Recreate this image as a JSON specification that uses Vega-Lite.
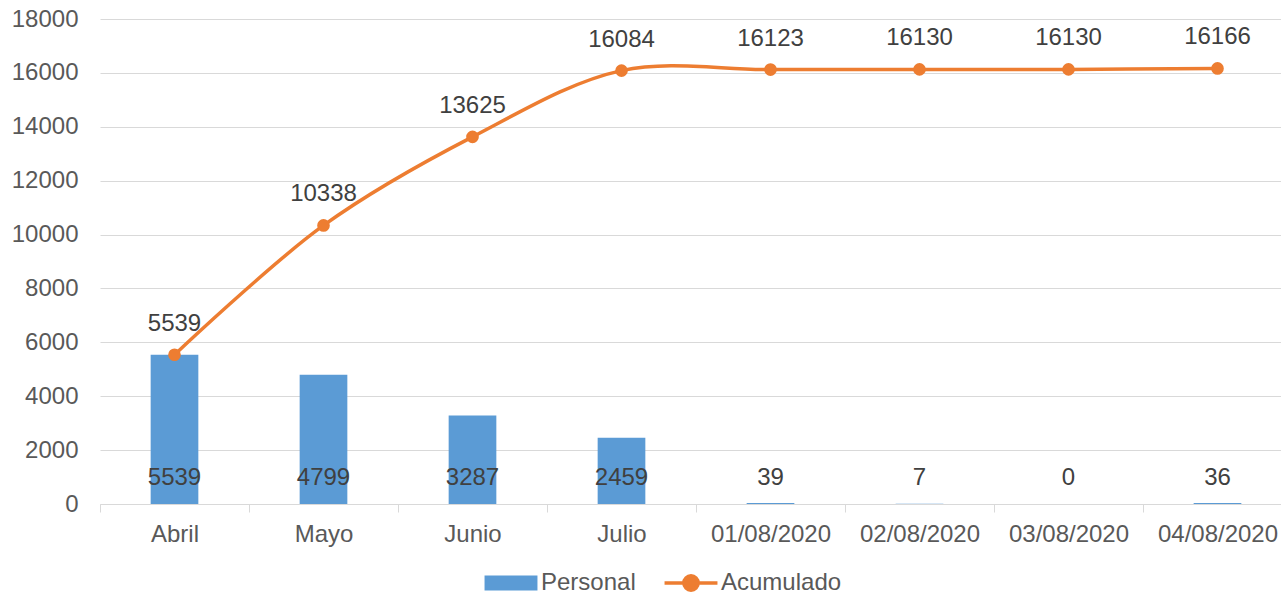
{
  "$schema": "https://vega.github.io/schema/vega-lite/v6.json",
  "width": 1192,
  "height": 485,
  "autosize": {"type": "none"},
  "padding": {"left": 100, "top": 19, "right": 0, "bottom": 91},
  "background": "white",
  "config": {
    "font": "Liberation Sans",
    "view": {"stroke": null},
    "legend": {"orient": "none", "legendX": 399, "legendY": 552}
  },
  "data": {
    "values": [
      {"mes": "Abril", "Personal": 5539, "Acumulado": 5539},
      {"mes": "Mayo", "Personal": 4799, "Acumulado": 10338},
      {"mes": "Junio", "Personal": 3287, "Acumulado": 13625},
      {"mes": "Julio", "Personal": 2459, "Acumulado": 16084},
      {"mes": "01/08/2020", "Personal": 39, "Acumulado": 16123},
      {"mes": "02/08/2020", "Personal": 7, "Acumulado": 16130},
      {"mes": "03/08/2020", "Personal": 0, "Acumulado": 16130},
      {"mes": "04/08/2020", "Personal": 36, "Acumulado": 16166}
    ]
  },
  "encoding": {
    "x": {
      "field": "mes",
      "type": "nominal",
      "sort": null,
      "scale": {"paddingInner": 0, "paddingOuter": 0},
      "axis": {
        "title": null,
        "labelAngle": 0,
        "labelFontSize": 24,
        "labelColor": "#595959",
        "labelPadding": 10,
        "domainColor": "#D9D9D9",
        "domainWidth": 1,
        "tickColor": "#D9D9D9",
        "tickSize": 8,
        "tickBand": "extent",
        "grid": false
      }
    }
  },
  "layer": [
    {
      "mark": {"type": "bar", "width": {"band": 0.32}},
      "encoding": {
        "y": {
          "field": "Personal",
          "type": "quantitative",
          "scale": {"domain": [0, 18000], "nice": false},
          "axis": {
            "title": null,
            "values": [0, 2000, 4000, 6000, 8000, 10000, 12000, 14000, 16000, 18000],
            "format": "d",
            "labelFontSize": 24,
            "labelColor": "#595959",
            "labelPadding": 22,
            "ticks": false,
            "domain": false,
            "gridColor": "#D9D9D9",
            "gridWidth": 1
          }
        },
        "color": {
          "datum": "Personal",
          "scale": {"domain": ["Personal", "Acumulado"], "range": ["#5B9BD5", "#ED7D31"]},
          "legend": {
            "title": null,
            "direction": "horizontal",
            "gridAlign": "none",
            "labelFontSize": 24,
            "labelColor": "#595959",
            "labelOffset": 18,
            "columnPadding": 21,
            "symbolSize": 2800,
            "encode": {
              "symbols": {
                "update": {
                  "shape": {"signal": "datum.value === 'Personal' ? 'M-1,-0.28H1V0.28H-1Z' : 'M-1,0H1M-0.27,0A0.27,0.27 0 1,0 0.27,0A0.27,0.27 0 1,0 -0.27,0'"},
                  "fill": {"signal": "datum.value === 'Personal' ? '#5B9BD5' : '#ED7D31'"},
                  "stroke": {"signal": "datum.value === 'Personal' ? '#5B9BD5' : '#ED7D31'"},
                  "strokeWidth": {"signal": "datum.value === 'Personal' ? 0 : 3.5"},
                  "opacity": {"value": 1},
                  "fillOpacity": {"value": 1}
                }
              }
            }
          }
        }
      }
    },
    {
      "mark": {"type": "text", "dy": -26, "fontSize": 24, "color": "#404040"},
      "encoding": {
        "y": {"datum": 0, "type": "quantitative"},
        "text": {"field": "Personal", "type": "quantitative", "format": "d"}
      }
    },
    {
      "mark": {"type": "line", "interpolate": "catmull-rom", "strokeWidth": 3.5},
      "encoding": {
        "y": {"field": "Acumulado", "type": "quantitative"},
        "color": {"datum": "Acumulado"}
      }
    },
    {
      "mark": {"type": "point", "filled": true, "size": 160, "opacity": 1, "color": "#ED7D31"},
      "encoding": {
        "y": {"field": "Acumulado", "type": "quantitative"}
      }
    },
    {
      "mark": {"type": "text", "dy": -31, "fontSize": 24, "color": "#404040"},
      "encoding": {
        "y": {"field": "Acumulado", "type": "quantitative"},
        "text": {"field": "Acumulado", "type": "quantitative", "format": "d"}
      }
    }
  ]
}
